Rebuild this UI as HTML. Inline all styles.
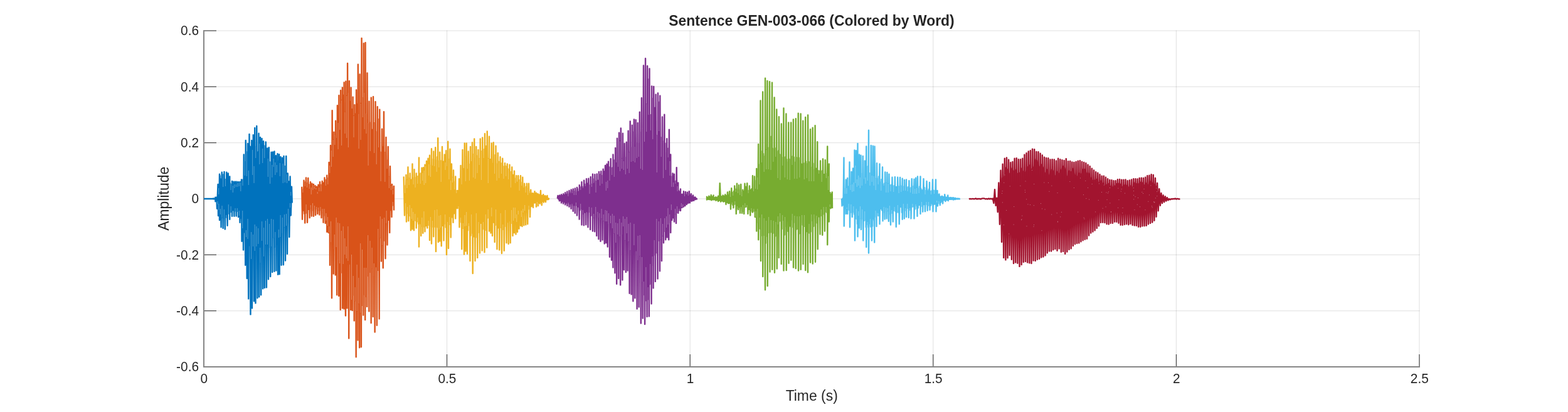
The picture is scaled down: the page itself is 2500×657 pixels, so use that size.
<!DOCTYPE html>
<html lang="en">
<head>
<meta charset="utf-8">
<title>Sentence GEN-003-066 (Colored by Word)</title>
<style>
html,body{margin:0;padding:0;background:#fff;}
body{width:2500px;height:657px;overflow:hidden;}
svg{display:block;}
</style>
</head>
<body>
<svg width="2500" height="657" viewBox="0 0 2500 657">
<rect width="2500" height="657" fill="#fff"/>
<g stroke="#262626" stroke-opacity="0.15" stroke-width="1" fill="none">
<line x1="712.6" y1="48.5" x2="712.6" y2="584.5"/>
<line x1="1100.2" y1="48.5" x2="1100.2" y2="584.5"/>
<line x1="1487.8" y1="48.5" x2="1487.8" y2="584.5"/>
<line x1="1875.4" y1="48.5" x2="1875.4" y2="584.5"/>
<line x1="2263.0" y1="48.5" x2="2263.0" y2="584.5"/>
<line x1="325.5" y1="49.0" x2="2263.5" y2="49.0"/>
<line x1="325.5" y1="138.3" x2="2263.5" y2="138.3"/>
<line x1="325.5" y1="227.7" x2="2263.5" y2="227.7"/>
<line x1="325.5" y1="317.0" x2="2263.5" y2="317.0"/>
<line x1="325.5" y1="406.3" x2="2263.5" y2="406.3"/>
<line x1="325.5" y1="495.7" x2="2263.5" y2="495.7"/>
</g>
<g stroke="#262626" stroke-width="1" fill="none">
<line x1="712.6" y1="585.0" x2="712.6" y2="565.0"/>
<line x1="1100.2" y1="585.0" x2="1100.2" y2="565.0"/>
<line x1="1487.8" y1="585.0" x2="1487.8" y2="565.0"/>
<line x1="1875.4" y1="585.0" x2="1875.4" y2="565.0"/>
<line x1="2263.0" y1="585.0" x2="2263.0" y2="565.0"/>
<line x1="325.0" y1="49.0" x2="345.0" y2="49.0"/>
<line x1="325.0" y1="138.3" x2="345.0" y2="138.3"/>
<line x1="325.0" y1="227.7" x2="345.0" y2="227.7"/>
<line x1="325.0" y1="317.0" x2="345.0" y2="317.0"/>
<line x1="325.0" y1="406.3" x2="345.0" y2="406.3"/>
<line x1="325.0" y1="495.7" x2="345.0" y2="495.7"/>
</g>
<rect x="324" y="48" width="2" height="538" fill="#868686"/>
<rect x="324" y="584" width="1940" height="2" fill="#868686"/>
<g fill="none" stroke-width="2.4" stroke-linejoin="round" stroke-linecap="butt">
<path d="M325 317L339 317L340 316.5L340 317.3L340.68 316.7L341.36 317.3L342.04 316.7L342.72 317.3L343.4 314.6L343.4 321.2L344.05 315.8L344.7 320.7L345.35 314.8L346 332.8L347.5 294L348 344L348.67 300.9L349.33 333.5L350 277.8L350 351L350.62 280.3L351.25 340.7L351.88 285.6L352.5 362.2L353.75 274.8L354.37 346.3L354.99 281.3L355.61 363.9L356.24 278.3L356.87 347.7L357.5 274L358.75 365.5L359.58 286.2L360.42 346.4L361.25 274.8L362.5 359.8L363.75 276.5L364.38 340.4L365 289.5L365.62 338.4L366.25 281.5L366.25 349.8L367 292.1L367.75 338.1L368.5 294.5L369.25 335.7L370 289L370 344.8L370.84 296.8L371.67 335L372.51 289.8L373.36 344.7L373.91 294.9L374.45 335.7L375 289.8L375.56 336.6L376.13 295.5L376.69 344.5L377.51 289.8L378.13 336.7L378.76 292.5L379.38 335.5L380 290.2L380 346L380.62 295.1L381.25 342.8L381.88 293.2L382.5 354.8L382.55 289.9L383.16 351.6L383.77 292L384.39 349.1L385 286.5L385.5 384.8L386.12 289.2L386.75 363L387.38 286.5L388 398.5L388.75 246.5L389.57 370.3L390.4 258.1L391.22 422.7L391.75 224L392.4 377.4L393.06 242.7L393.71 444L395 229L396.21 476.4L397.5 214L398.15 391.3L398.8 233.7L399.46 501.4L400.05 245L400.65 412.4L401.25 224L401.95 491.4L402.55 239.8L403.15 392.1L403.75 215.2L404.95 480.2L406.25 204L407.44 483.4L408.05 234.6L408.65 392.3L409.25 201L410.44 475.2L411.13 242.6L411.81 387.9L412.5 212.8L413.19 473.4L413.79 230.5L414.4 417.8L415 219L416.18 470.2L417.52 221L418.07 383.3L418.63 237.7L419.18 460.2L420 225.2L420.64 408.4L421.28 232.6L421.92 458.9L422.53 251.9L423.14 388.7L423.75 226.5L424.92 458.4L426.25 236.5L426.8 389L427.36 254.3L427.91 445.2L428.75 235.2L429.55 394.5L430.36 258.6L431.16 441L432.5 242.8L433.05 391.7L433.6 263.5L434.15 434L435 242.4L435.8 378.1L436.6 254.2L437.4 432.7L437.5 241.5L438.12 394.6L438.73 259.8L439.35 378.1L439.96 248.2L440.39 431.5L441.1 264.2L441.8 381.6L442.5 245.2L443.14 437.7L443.79 257.7L444.43 378.3L445.07 246.2L445.64 437.2L446.26 261.3L446.88 377.3L447.5 250.2L448.63 422.7L450.05 251.7L450.66 370.7L451.27 261.8L451.88 422.2L452.5 249L453.33 361.2L454.17 265.3L455 415.5L456.25 249L456.83 358.8L457.42 278.9L458 404.8L458.75 276.5L459.58 353.8L460.42 289.4L461.25 378L462.5 281.5L463.75 343.5L465 297.8L465.75 323.5" stroke="#0072BD"/>
<path d="M348.7 300V310M355.7 277V298M359.4 285V297M368.1 291V303M371.3 296V307M373.8 294V300M376.3 294V298M378.8 292V298M381.2 292V297M383.8 291V305M387.0 286V296M390.2 257V280M393.3 242V281M396.3 272V295M402.6 239V279M405.0 265V292M407.7 234V252M413.8 229V262M418.7 237V260M421.8 232V252M427.4 253V282M430.6 258V293M433.8 263V283M436.2 253V266M438.8 259V279M441.3 263V275M446.3 260V281M451.2 261V292M454.3 264V291M457.5 278V292M463.8 306V312M346.9 326V321M348.9 335V325M351.3 342V333M354.0 347V328M357.3 349V334M360.7 347V343M364.3 341V326M368.1 339V329M375.0 338V332M378.3 338V332M381.3 344V336M383.9 353V349M386.7 364V336M392.4 378V367M395.0 381V349M400.6 413V370M403.4 393V374M406.2 400V358M408.9 393V361M411.8 389V364M414.7 419V395M417.6 384V353M420.6 409V363M423.5 390V352M426.5 390V349M429.6 396V357M432.6 393V349M435.8 379V350M438.8 396V370M444.4 379V366M447.1 378V343M450.3 372V347M453.4 362V342M456.5 360V341M459.6 355V333M462.6 331V324" stroke="#fff" stroke-opacity="0.42" stroke-width="0.8"/>
<path d="M481.25 297.8L482 349.8L482.83 303L483.67 335.5L484.5 287.8L485.08 340.4L485.67 290.2L486.25 355.5L486.83 291.9L487.42 339.9L488 283.5L488.67 336.4L489.33 292.8L490 354.8L491.25 284L492.08 333.7L492.92 294.4L493.75 347.2L495 290.2L495.63 329.8L496.26 300L496.89 344.5L497.49 292.8L498.12 335L498.75 296.2L499.37 333.9L500 294L500 344.8L500.85 299.4L501.71 331.9L502.56 296.3L503.06 342.9L503.71 300.6L504.35 332.8L505 297.8L506.25 341L507.5 294.7L508.11 334.4L508.71 299.8L509.31 342.6L510 290.2L510.83 334.8L511.67 294.9L512.5 347.2L513.75 289L514.33 336.6L514.92 293L515.5 354.8L516.17 291.4L516.83 343.1L517.5 283.5L518.75 356L519.58 286.9L520.42 351.3L521.25 279.8L521.25 369.8L521.85 284.6L522.46 358.6L523.06 284.1L523.66 371L524.5 259L525.01 370.8L525.51 265.1L526.02 422.7L527 232L527.67 384.9L528.34 240.8L529.01 475.2L529.65 176.3L530.35 377.5L531.05 223.7L531.76 436.5L532.39 210.8L533.18 395.8L533.97 217.4L534.75 438.5L535.09 192.7L535.81 393L536.53 221.4L537.25 470.2L537.88 168.3L538.67 413.5L539.46 196.8L540.24 471.9L540.38 152.1L541.17 419L541.95 166.2L542.74 493.9L543.13 144.1L543.81 434.7L544.5 160.8L545.18 413.2L545.87 139.6L545.99 491.4L546.61 199.9L547.23 420.5L547.86 151.8L548.48 492.6L548.62 131.4L549.4 405.5L550.19 179.8L550.98 503.4L551.36 129.6L552.07 410.9L552.77 153.8L553.47 491.4L554.11 100.9L554.81 415.4L555.52 149.5L556.22 539.6L556.85 129.1L557.64 420.6L558.43 161.8L559.22 493.9L559.6 139.6L560.3 476.6L561.01 174.5L561.71 495.1L562.6 154.6L563.3 470.6L564 185.6L564.71 511.4L565.34 167.1L566.13 479.1L566.92 181.4L567.7 569.3L568.09 143.4L568.88 495.2L569.66 165.8L570.45 542.6L570.83 102.7L571.62 483.2L572.41 183.2L573.2 554.3L573.58 118.4L574.37 498.2L575.15 165.8L575.94 553.3L576.58 61L577.45 486.7L578.32 156.9L579.19 502.6L579.82 69.2L580.61 469.1L581.39 149L582.18 510.1L582.57 68L583.44 472.8L584.31 182.2L585.18 488.9L585.56 116.4L586.52 439.8L587.47 197.2L588.42 496.4L588.56 161.6L589.18 431.2L589.8 195.7L590.42 433.4L591.05 197.5L591.67 515.1L591.8 155.8L592.76 427L593.71 207L594.66 505.1L595.05 154.1L595.92 438.8L596.79 196.5L597.66 529.6L598.54 162.1L599.33 425.1L600.12 210.9L600.9 518.8L601.79 170.3L602.74 430.8L603.69 190.3L604.65 508.4L605.28 174.6L606.15 378.3L607.02 242.9L607.89 416.5L609.03 205.8L609.6 390.3L610.18 234.2L610.75 427.2L612.02 178.3L612.85 383.4L613.67 243.6L614.5 412.2L615.5 219L616.17 354.7L616.83 255.2L617.5 390.5L618.75 234L619.58 350.7L620.42 282.9L621.25 371L622 265.2L622.83 335L623.67 296.6L624.5 346L625 294L625.75 327.6L626.5 304L627.25 325.5L628 297L628 335.5" stroke="#D95319"/>
<path d="M482.8 302V307M486.2 289V297M489.6 292V299M493.2 293V301M496.2 299V310M498.8 295V303M501.3 298V301M503.8 300V302M506.2 306V309M508.8 299V305M511.9 294V305M519.3 286V296M522.8 283V294M525.7 264V276M528.4 240V266M531.1 223V250M533.8 216V231M539.1 196V238M541.8 165V207M544.6 160V232M550.0 179V213M552.8 153V220M555.4 148V235M564.0 185V219M572.1 182V237M575.1 165V223M578.3 156V187M581.1 148V206M584.0 181V213M587.1 196V264M590.3 195V241M596.7 196V244M600.2 210V262M603.6 189V235M607.1 242V289M613.8 243V290M617.1 254V269M620.4 282V300M623.6 296V303M626.6 303V310M484.2 341V337M488.1 341V326M495.3 331V327M498.5 336V324M501.5 333V328M504.7 334V330M507.7 335V331M510.9 336V330M514.0 338V333M517.0 344V333M519.9 352V340M522.4 360V346M524.8 371V361M527.5 386V353M533.3 397V374M536.1 394V347M538.7 415V355M541.6 420V356M544.3 436V368M547.2 421V361M549.8 406V380M552.3 412V393M554.9 416V361M560.5 478V406M563.2 472V440M566.1 480V458M569.1 496V422M571.8 484V443M574.7 499V388M577.5 488V398M580.7 470V427M583.7 474V427M586.7 441V375M590.0 434V384M593.1 428V395M596.2 440V420M602.8 432V365M606.3 379V345M609.4 391V349M612.7 384V347M616.1 356V336M626.3 329V322" stroke="#fff" stroke-opacity="0.42" stroke-width="0.8"/>
<path d="M643.75 281.5L645 343.5L645.83 296.4L646.67 334.9L647.5 279L648 353.5L648.83 287.9L649.67 339.3L650.5 266.5L651.25 352.2L652.08 284.4L652.92 343.5L653.75 276.5L655 367.2L655.83 286.6L656.67 347.8L657.5 261.5L657.51 365.4L658.13 283.2L658.75 350.8L659.38 284.8L660 367.2L660.5 270.2L661.31 351.4L662.12 283.9L662.94 351.9L663.75 276.5L663.75 363.5L664.6 281.2L665.45 353.3L666.3 281.3L667.15 356.9L668 251.5L668 393.5L668.81 277.3L669.62 356.2L670.44 276.5L671.25 376L672.5 267.8L673.11 360.9L673.71 277L674.32 371.8L675 267.2L675.62 361.5L676.25 273.3L676.87 356.7L677.5 262.8L677.5 369.2L678.34 266.4L679.18 360L680.02 256.9L681.25 363.5L682.5 252.8L683.12 358.8L683.75 263.4L684.38 358.1L685 247.8L685 383L686 264.7L687 360L688 237.2L688 388.5L688.65 253.7L689.3 360.7L689.95 263.5L690.6 362.5L691.25 241.5L691.25 377.2L692.25 254.9L693.25 361.3L694.25 235.2L695 401L695.65 256.2L696.3 360.2L696.95 250.3L697.6 362.2L698.25 220.2L698.75 386L699.36 258L699.97 365.2L700.59 256.4L701.2 384.6L701.25 242.8L702.08 362.3L702.92 256.6L703.75 392.2L705 234L705.83 359.7L706.67 257.8L707.5 383.5L708.75 246.5L709.38 356.6L710 259.8L710.62 362.4L711.25 240.2L712 406L712.75 266.6L713.5 369.4L714.25 225.8L715 396L715.83 254.1L716.67 357.8L717.5 237.8L718.75 378.5L720 261.5L720.83 346.4L721.67 283.7L722.5 354.8L723 271.5L723.81 340.6L724.62 290.4L725.44 335.9L726.25 281.5L726.25 348.5L726.9 305.7L727.55 330.7L728.2 304.5L728.85 332.1L729.5 304L729.5 332.2L730.33 305.9L731.17 331L732 285.2L732.5 362.2L733.17 286.8L733.83 347.3L734.5 264L735.08 354.2L735.67 272.1L736.25 397.2L737.5 239L738.33 363.5L739.17 269.3L740 405.5L740.75 228.5L741.31 359.9L741.87 250.7L742.43 400.5L743.75 228.5L745 404.8L745.58 261.3L746.17 367.3L746.75 241.5L747.67 359.2L748.58 262.2L749.5 416L750 234L750.75 375.5L751.5 258.4L752.25 371.6L753 227.2L753.75 436L754.58 246.7L755.42 377.3L756.25 221.5L757.5 416L758.08 252.3L758.67 378.6L759.25 234L759.92 369L760.58 248.9L761.25 411L762.5 239L763.33 370.4L764.17 253.6L765 403.5L765.75 221.5L766.73 355.7L767.71 241.2L768.69 399.5L769.25 219.5L769.9 360.5L770.55 248L771.2 365.2L771.85 237.9L772.5 402.2L773 213.2L773.65 363L774.3 237.1L774.95 367.1L775.6 232.6L776.25 394.8L776.75 209.5L777.56 347.4L778.38 253.5L779.19 346.8L780 217.8L780 368.5L780.62 257.9L781.24 350.3L781.86 254.3L782.48 371.6L783.75 228.5L785 376L785.58 260.6L786.17 352.8L786.75 227.2L787.42 354.8L788.08 260.3L788.75 386L789.33 247L789.92 358.9L790.5 232.8L791.17 356.6L791.83 261.6L792.5 397.2L793.75 244L794.58 363.2L795.42 257.9L796.25 398.5L797.5 250.2L798.33 362.8L799.17 260.4L800 404L801.25 252.8L802.08 365.9L802.92 265.8L803.75 399.8L805 260.2L805.83 360.3L806.67 265.3L807.5 387.2L808.75 261.5L809.39 354L810.03 269.4L810.68 389.1L811.28 274.8L811.89 351.9L812.5 262.8L813.75 387.2L814.58 274.5L815.42 355.7L816.25 266.5L817.5 376L818.11 278.9L818.72 350.5L819.33 286.7L819.93 371.2L820 272.8L820.83 347L821.67 284.9L822.5 373.5L823.25 280.2L823.83 352.8L824.42 290.8L825 370.1L826.25 280.2L827.5 364.8L828.33 287.2L829.17 341.4L830 280.2L830.07 359.8L830.68 290.4L831.29 345L831.89 296.2L832.5 361L833.25 282.8L833.95 338.3L834.66 297.4L835.36 359.2L836.25 292.8L836.93 335.4L837.6 300.6L838.28 358.4L838.85 297.8L839.43 336.8L840 292.8L841.25 357.2L841.83 301.7L842.42 333.5L843 292.8L843.67 330.3L844.33 305.9L845 346L846.25 302.8L847.52 329.2L848.11 308.6L848.71 327L849.3 308.1L850 331L850.83 308.9L851.67 322.7L852.5 305.2L852.53 323.6L853.34 308.1L854.15 322.9L854.97 307.7L855 329.8L855.83 310.1L856.67 325.7L857.5 309L857.87 328.3L858.61 310.1L859.34 323.3L860.08 310.7L860.82 324.8L862 304L862.58 322.5L863.17 311.4L863.75 327.2L864.58 312.1L865.42 320.8L866.25 310.2L866.89 322.7L867.73 312.8L868.57 320.2L869.4 312.3L870 322.2L870.62 313.7L871.24 318L871.86 313.7L872.48 318.1L872.5 312L873.12 318L873.75 316.6L874.38 318L875 316.6L875 318" stroke="#EDB120"/>
<path d="M645.6 295V308M648.9 287V300M652.1 283V295M659.1 282V294M662.1 283V299M665.8 280V293M670.3 275V293M673.8 276V288M676.2 272V295M678.7 265V292M683.8 262V280M686.5 264V282M689.5 253V264M692.7 254V265M696.2 249V274M699.8 255V267M703.2 256V290M710.0 259V271M715.9 253V286M718.8 288V303M721.5 283V291M724.7 289V302M727.8 304V308M736.0 271V294M742.3 250V289M745.3 260V269M748.4 261V288M754.6 246V283M757.8 251V285M760.9 248V276M764.1 253V263M767.4 240V287M771.1 237V252M778.3 253V292M788.6 246V277M792.1 261V288M795.7 257V284M799.4 259V277M803.0 265V285M806.8 264V281M810.6 268V286M814.4 274V299M821.7 284V292M828.1 286V304M831.7 289V296M834.8 296V299M838.1 297V307M841.6 301V311M844.7 305V308M646.6 336V324M649.7 340V330M653.2 344V327M656.3 349V332M658.7 352V338M661.8 353V341M665.9 358V347M672.8 362V347M675.9 363V337M683.2 360V352M686.4 361V346M689.6 364V352M693.1 362V335M696.8 363V334M700.0 366V344M702.6 363V343M709.7 363V342M713.6 370V354M716.8 359V346M730.9 332V329M734.4 355V347M738.2 364V356M741.1 361V343M743.7 360V338M747.3 368V356M751.6 377V342M759.3 380V340M763.0 371V354M770.6 366V354M774.3 368V342M778.2 348V334M783.8 345V331M790.6 360V334M798.2 364V340M801.8 367V358M805.7 361V335M815.7 357V335M818.6 352V331M821.2 348V331M823.8 354V342M826.3 342V336M831.3 346V336M833.9 339V333M836.7 336V327M843.1 335V328M856.5 327V322" stroke="#fff" stroke-opacity="0.42" stroke-width="0.8"/>
<path d="M888.75 316.8L889.5 312L890.29 317.3L891.08 313.5L891.87 320.4L892.21 311.4L892.91 319.6L893.61 312.8L894.3 320.2L895 310.2L895 323.5L895.77 311.7L896.54 320.9L897.31 311.6L898.08 324.8L898.15 309.2L898.92 322.1L899.68 311.3L900.44 322.3L901.2 307.1L901.21 326.4L901.83 309.9L902.46 323.2L903.08 310.3L903.7 323.8L904.32 305.5L904.39 328.1L905.01 309.8L905.63 323.7L906.26 310.2L906.88 324.6L907.5 304L907.5 329.8L908.27 309.4L909.03 324.7L909.8 306.8L910.57 332.8L910.66 302.5L911.27 325.4L911.88 304.4L912.49 326L913.1 307.3L913.71 336.7L913.75 301.4L914.37 326L914.98 305.8L915.6 327.2L916.21 305.5L916.83 339.8L916.84 300.5L917.63 327.2L918.42 307.1L919.21 328L920 299L920 343.5L920.92 301.1L921.84 329.5L922.76 305.2L923.69 349.6L923.8 295.3L924.73 335.2L925.65 298.4L926.58 332.9L927.5 290.2L927.5 358.5L928.35 297.7L929.2 340.8L930.05 300.7L930.9 359.3L931.18 287.8L931.78 335.8L932.39 293.8L932.99 338.5L933.6 297.1L934.2 358.2L935 285.2L935.83 337.2L936.67 292.7L937.5 362.2L938.28 284.8L939.25 337.7L940.21 295.9L941.18 366L941.71 282.1L942.53 343.7L943.36 294.8L944.18 341.7L945 277.8L945 368.5L945.79 285.3L946.59 346.2L947.38 291.1L948.17 369.3L948.38 278.3L949.34 340.9L950.29 289.3L951.25 376L951.73 277.4L952.62 345.7L953.51 287.9L954.4 381.2L955 274L955.83 349.9L956.67 278.8L957.5 384.8L958.3 273.3L959.07 347L959.84 280.6L960.61 382.6L961.66 269.7L962.36 351.3L963.05 273.5L963.75 388.5L965 264L966.31 387.3L967.51 261.7L968.75 393.5L970 257.8L970.67 355.6L971.33 266.8L972 409.8L972.58 271.5L973.15 354.6L973.73 253.1L975 414.8L975.61 268.1L976.22 363.4L976.83 266.9L977.44 426.5L977.5 246.5L978.48 371.4L979.46 255.7L980.44 435.2L981.2 236L981.86 385.9L982.52 246.1L983.19 452.7L984 220.6L984.73 373.5L985.45 256.3L986.18 444L987.08 211.7L987.78 375.6L988.48 225.8L989.18 454.4L989.88 204.4L990.73 372.7L991.58 254L992.42 446.5L992.96 212.8L993.61 359.5L994.27 257.5L994.92 430.2L995.76 229L996.48 382.4L997.2 251.5L997.91 434L998.84 226.8L999.45 370.8L1000.05 240L1000.66 431.5L1001.64 208.6L1002.31 384.4L1002.98 243.8L1003.65 467.7L1004.72 193.5L1005.37 398.1L1006.01 235.3L1006.65 469.4L1007.8 199.6L1008.33 376.9L1008.87 210.6L1009.4 480.2L1010.88 190.4L1011.39 389.6L1011.89 235.1L1012.39 475.2L1013.69 191.2L1014.34 399.2L1014.99 228L1015.64 492.6L1016.77 196L1017.39 413.8L1018.01 228.3L1018.63 489.6L1019.85 178.6L1020.52 407.3L1021.2 211.3L1021.88 515.6L1022.93 156.2L1023.58 447.6L1024.22 205.3L1024.87 507.6L1026.01 104.4L1026.71 469.7L1027.41 185.5L1028.12 517.1L1029.09 93.2L1029.93 479L1030.77 166.7L1031.61 505.1L1032.17 105.2L1033.06 477L1033.96 126.5L1034.86 504.4L1035.53 109.4L1036.14 453L1036.76 196.7L1037.37 452L1037.99 182.9L1038.6 484.4L1039.17 137.4L1039.98 422.9L1040.79 157.1L1041.6 459.4L1042.25 138L1043.11 406L1043.98 172L1044.84 448.9L1045.61 150.6L1046.6 403L1047.59 216.7L1048.59 444.5L1048.97 148.4L1049.58 383L1050.18 165.6L1050.79 383.4L1051.39 162.7L1052 432.2L1052.33 152.6L1053.22 381.4L1054.11 219.8L1055 416L1055.97 186.5L1056.65 375.5L1057.32 226L1058 387.2L1059.33 182.8L1059.97 368.4L1060.61 228.8L1061.25 382.2L1061.92 244.4L1062.58 361.9L1063.25 221.2L1063.71 378.6L1064.34 250.7L1064.98 357.3L1065.61 236.4L1066.25 382.2L1066.89 206.6L1067.48 354L1068.07 257.9L1068.66 352.8L1069.25 246.5L1069.25 371L1070.25 281.8L1071.25 351L1072.5 276.5L1073.12 347.4L1073.75 291.8L1074.38 343.1L1075 277.8L1075 353.5L1075.75 289.4L1076.5 340.3L1077.25 289L1078 356L1078.75 267.2L1079.38 338.8L1080 298.4L1080.62 335.6L1081.25 291.5L1081.25 339.8L1082 304.1L1082.75 335.4L1083.5 306L1084.25 334L1085 301.5L1085 336L1085.82 310.3L1086.65 329.3L1087.47 309.7L1087.48 331.1L1088.32 310.8L1089.16 329.3L1090 305.2L1090 329.8L1090.61 310.2L1091.22 327.5L1091.83 310L1092.45 328.3L1092.96 306L1093.64 325.3L1094.32 311.1L1095 326L1095.91 306.8L1096.44 323.7L1096.98 308.4L1097.52 323.8L1098.75 305.2L1100 323.5L1100.63 311.9L1101.26 320.4L1101.88 309.2L1103.08 320.7L1103.72 313.9L1104.36 319.7L1105 311.5L1106.25 319.8L1106.98 314.9L1107.71 318L1108.45 314.5L1109.14 318.1L1110.09 316.5L1111.05 317.3L1112 317.1L1112 317.1" stroke="#7E2F8E"/>
<path d="M905.9 309V313M909.1 306V308M912.2 303V308M915.3 305V311M918.4 306V311M921.9 300V305M925.7 297V303M933.2 293V297M940.0 295V309M943.4 294V298M946.7 284V292M950.0 288V307M956.6 278V296M960.0 280V293M966.3 290V304M968.8 288V300M972.0 266V288M975.6 266V279M979.3 255V282M982.6 245V259M985.5 255V266M988.5 225V273M991.5 253V269M994.4 257V271M997.3 250V278M1000.3 239V269M1003.2 243V276M1006.3 234V258M1009.3 210V257M1012.3 234V259M1015.3 227V252M1018.3 227V250M1021.4 210V269M1024.4 204V271M1027.5 184V226M1030.7 166V210M1033.9 125V183M1037.4 182V208M1040.7 156V222M1047.3 216V275M1050.7 162V209M1054.2 219V250M1057.6 225V284M1061.4 228V271M1065.2 235V251M1068.0 257V280M1070.8 281V298M1073.7 291V298M1076.9 288V293M1080.1 297V305M1091.5 309V313M1097.3 307V312M906.0 326V323M912.1 327V325M918.4 329V323M925.7 336V325M929.2 342V335M939.4 339V330M943.2 345V331M946.6 347V341M949.7 342V330M952.9 347V338M955.9 351V340M959.1 348V333M962.2 352V342M965.1 353V335M967.5 353V336M970.3 357V340M973.5 356V344M976.3 364V341M979.0 372V344M981.8 387V355M984.8 374V356M987.8 377V349M990.9 374V355M993.6 361V345M996.4 383V349M999.3 372V346M1002.1 385V357M1005.1 399V355M1010.9 391V357M1017.1 415V376M1020.2 408V375M1023.5 449V410M1026.5 471V449M1029.9 480V426M1033.2 478V458M1036.7 454V421M1040.2 424V409M1043.2 407V383M1046.8 404V349M1050.3 384V353M1053.5 382V348M1056.6 376V357M1059.7 369V348M1062.6 363V345M1065.0 358V332M1067.7 355V342M1070.3 335V326M1076.5 341V333M1079.6 340V329M1083.0 336V333M1086.3 330V324M1088.7 330V326" stroke="#fff" stroke-opacity="0.42" stroke-width="0.8"/>
<path d="M1127 312.8L1127 318.5L1127.66 315.3L1128.33 317.7L1128.99 315.1L1129.65 317.8L1130.32 312.6L1130.66 318.1L1131.28 315.6L1131.9 318L1132.51 314L1133.13 318L1133.75 311L1134.16 319.3L1134.84 313.1L1135.51 318.2L1136.18 314.6L1136.85 318.2L1137.52 311.5L1137.82 318.3L1138.5 315.3L1139.18 318.3L1139.86 315.2L1140.54 318.3L1141.22 314.3L1141.41 319.9L1142.13 315.1L1142.84 318.9L1143.56 315L1144.28 319.1L1145 312.8L1145 321L1145.92 314.6L1146.83 319.7L1147.75 292.2L1149.12 321.7L1149.79 313.3L1150.47 320.4L1151.15 313.6L1151.82 320.4L1152.5 311.5L1153.28 321.7L1153.88 312.6L1154.48 321.2L1155.08 312.8L1155.68 321L1156.29 310.2L1157.5 326L1158.33 312.3L1159.17 322.8L1160 306.5L1161.19 324.4L1161.82 311.2L1162.46 323.7L1163.1 305.2L1163.73 323.9L1164.37 310.3L1165 333.5L1166.25 300.2L1166.89 324.9L1167.53 309.1L1168.17 326.9L1168.81 306.7L1169.45 331.4L1170.05 304.7L1170.65 325.9L1171.25 296.5L1172.08 325.3L1172.92 302L1173.75 341L1175 292.8L1175.65 331.3L1176.3 304.8L1176.95 334.1L1178.11 295.2L1178.74 330L1179.37 303.2L1180 339.8L1181.25 294L1181.88 328.7L1182.51 307L1183.14 339.9L1184.32 302.7L1184.96 336.3L1185.61 305.4L1186.25 341L1187.5 292.8L1188.13 329.5L1188.77 297.7L1189.4 330L1190.02 302.9L1190.63 328.8L1191.25 292.2L1192.5 341L1193.33 304.2L1194.17 333.9L1195 296.5L1196.25 343.5L1197 302.9L1197.75 335.8L1198.5 301.1L1199.25 337.8L1200 280.2L1200 338.5L1201 297.2L1202 336.6L1203 281.5L1203.75 346L1204.58 288.4L1205.42 345.7L1206.25 269L1206.25 368.5L1207.22 284.2L1208.18 354.1L1209.15 229.9L1209.25 382.2L1209.9 269.9L1210.55 364.2L1211.21 262.7L1211.86 364.8L1212.51 160.4L1213 416L1213.63 256.1L1214.26 371.1L1214.89 241.1L1215.52 376L1216.15 146.4L1216.25 441L1217.19 245.3L1218.12 374.4L1219.06 249.3L1220 462.2L1220.07 124.6L1220.91 387.7L1221.75 239.5L1222.59 376.6L1223.43 129L1223.75 456L1224.41 242L1225.08 370.9L1225.74 235.7L1226.41 370.4L1227.07 130.2L1227.5 433.5L1228.2 239.6L1228.9 370.2L1229.59 217.6L1230.29 367.4L1230.99 131.8L1231.25 429.8L1231.93 236.4L1232.6 371.8L1233.28 238.6L1233.96 371.1L1234.63 155.4L1235 434.8L1235.65 242.7L1236.31 376.5L1236.96 236.5L1237.62 358.6L1238.27 174.4L1238.75 428.5L1239.5 242.2L1240.25 357L1241 240.2L1241.75 411L1241.91 186.2L1242.68 352.7L1243.45 246.4L1244.22 352.1L1244.98 248.3L1245.75 421L1245.83 197.4L1246.74 365.1L1247.65 251.9L1248.56 350.9L1249.47 172.5L1249.5 431.5L1250.28 252.5L1251.06 374.3L1251.84 250.8L1252.62 360.6L1253.39 181.4L1253.75 431L1254.46 254.1L1255.18 352L1255.89 258.6L1256.6 369.1L1257.31 195.4L1257.5 419.8L1258.25 253.8L1258.99 359.9L1259.74 255L1260.49 361.2L1261.23 195.4L1261.25 414.8L1261.98 251.2L1262.7 349.8L1263.43 249.7L1264.15 362.3L1264.88 190.4L1265 426.5L1265.94 250.7L1266.88 354.5L1267.81 258.6L1268.75 428L1268.8 189.3L1269.45 366.3L1270.1 251.3L1270.76 364.9L1271.41 252.6L1272.06 354.2L1272.72 180.6L1273 431.5L1273.73 251.6L1274.45 372.2L1275.18 256.5L1275.91 363L1276.64 181.4L1276.75 429.8L1277.46 261.3L1278.16 354.3L1278.87 262.3L1279.57 358.7L1280.28 192.6L1280.5 421L1281.24 261.8L1281.98 360.9L1282.72 260.2L1283.46 355.9L1284.2 187L1284.25 431L1285.19 257.6L1286.12 369L1287.06 261.3L1288 434.2L1288.12 183.4L1288.89 355.3L1289.67 258.1L1290.45 371.4L1291.22 267.4L1292 418.5L1292.04 206.1L1292.95 369.2L1293.86 268L1294.77 351.9L1295.68 203.8L1295.75 420.5L1296.52 260.8L1297.29 360.8L1298.06 270.7L1298.83 347.4L1299.6 200.2L1300 417.8L1300.65 268.4L1301.3 343.9L1301.94 269.8L1302.59 355.2L1303.24 226.2L1303.75 397.2L1304.69 272.1L1305.62 345.4L1306.56 272.8L1307.5 373.5L1308 256.5L1308.65 344.1L1309.3 274.3L1309.95 338.7L1310.6 272.4L1311.25 374.8L1312 253.5L1313 341.1L1314 278.1L1315 368.5L1315.75 255.2L1316.62 337.5L1317.5 277.2L1318.38 339.1L1319.25 233.5L1319.25 390.2L1320.08 281.7L1320.92 334.8L1321.75 261.5L1321.75 353.5L1322.44 308L1323.12 329L1323.81 307.1L1324.5 332.2L1325.25 309.3L1326 321.6L1326.75 306.5L1327 332.2" stroke="#77AC30"/>
<path d="M1164.6 309V314M1168.7 304V312M1173.1 301V306M1176.6 304V308M1179.7 302V311M1182.8 306V313M1193.1 303V308M1201.5 296V305M1204.5 287V301M1207.7 283V302M1210.9 262V294M1214.4 240V259M1218.2 244V274M1221.8 239V270M1225.2 235V270M1229.0 217V271M1232.9 235V258M1236.6 236V250M1240.1 239V284M1243.9 245V287M1247.7 251V264M1251.3 250V283M1255.3 253V286M1259.2 253V287M1263.0 249V263M1266.9 250V285M1270.7 250V285M1274.8 251V283M1282.3 259V286M1286.2 257V284M1290.0 257V289M1293.8 267V289M1297.6 260V289M1305.6 271V277M1310.1 271V290M1317.4 276V284M1320.6 281V303M1324.3 306V309M1167.2 328V323M1171.7 327V321M1175.4 332V329M1184.6 337V327M1187.8 330V324M1191.0 330V327M1198.0 338V332M1201.9 338V333M1205.0 346V337M1207.8 355V333M1211.1 366V347M1214.6 377V342M1218.2 375V348M1221.8 389V352M1225.6 372V346M1229.3 371V351M1233.2 373V352M1236.9 378V354M1240.3 358V345M1243.7 354V340M1247.6 366V343M1251.6 375V346M1263.2 363V341M1266.9 356V344M1271.0 367V345M1274.8 373V345M1278.6 360V343M1282.4 362V343M1290.0 372V357M1293.8 370V342M1297.9 362V342M1301.9 356V344M1309.3 345V334M1313.1 342V330M1317.1 340V330M1323.2 330V326" stroke="#fff" stroke-opacity="0.42" stroke-width="0.8"/>
<path d="M1342 316.7L1342.5 328.5L1343.5 316.5L1344.5 326.8L1345.5 251.5L1345.75 360.5L1346.75 300.9L1347.75 332.1L1348.75 286.5L1348.75 341L1349.58 301L1350.42 332.3L1351.25 284L1351.25 341L1351.9 297.2L1352.55 334L1353.2 297.7L1353.85 334.9L1354.5 258.5L1355 362.2L1355.83 296.1L1356.67 338.2L1357.5 274L1358.75 346L1360 268.5L1360.62 338L1361.25 292.1L1361.88 341.6L1362.5 239.5L1363 383.5L1363.67 265.2L1364.33 342.8L1365 240.2L1365.62 349.1L1366.25 286.8L1366.88 357.1L1367.5 229L1367.5 377.2L1368.33 280.7L1369.17 343.5L1370 246.5L1370 363.5L1370.83 283.9L1371.67 347.4L1372.5 247.8L1373 366L1373.92 277.2L1374.83 348.8L1375.75 249L1376.25 383.5L1377.08 286.9L1377.92 351.8L1378.75 256.5L1379.38 350.8L1380 283.8L1380.62 362.2L1381.25 233.5L1381.25 394L1382 268.3L1382.75 357.9L1383.5 265.8L1384.25 362.3L1385 207.8L1385 403.5L1385.75 276L1386.5 356.2L1387.25 276.4L1388 361.4L1388.75 232L1390 383.5L1390.58 280.8L1391.17 360.4L1391.75 232.8L1392.58 351.1L1393.42 281.9L1394.25 386.5L1394.5 233.5L1395.5 345.5L1396.5 285.6L1397.5 361L1398 260.2L1398.75 338.3L1399.5 285.7L1400.25 344.1L1401 281.7L1401.75 334.7L1402.5 261.5L1402.5 357.2L1403.4 290.4L1404.3 332.7L1405.2 286.2L1406.1 335.2L1407 266.5L1407.5 352.2L1408.3 294.3L1409.09 337.3L1409.89 292.6L1410.69 349.6L1411.25 274.5L1412.08 329.9L1412.92 292.7L1413.75 348.5L1414.44 275L1415.24 335.5L1416.04 293.7L1416.83 352.8L1417.5 277.8L1418.33 340.4L1419.17 295.4L1420 358.5L1420.83 295L1421.67 339.3L1422.5 282.8L1423.75 353.5L1424.38 296.8L1425.01 335.7L1425.65 296.3L1426.28 332.1L1426.91 282.3L1427.52 337L1428.14 297.9L1428.75 361.8L1429.58 298.2L1430.42 338.4L1431.25 282.8L1432.08 338.5L1432.92 297.8L1433.75 357.2L1435.07 282.9L1435.99 329.8L1436.91 297L1437.83 338.7L1438.75 284.8L1438.75 349.8L1439.53 299.1L1440.31 331.7L1441.08 297.3L1441.86 348.5L1441.93 286.9L1442.7 336L1443.47 299.1L1444.23 332.9L1445 286.5L1445 346L1445.63 298.3L1446.25 329.7L1446.88 300.4L1447.51 332.1L1448.13 298.3L1448.76 347L1449.43 288.1L1450.04 335.1L1450.66 300.8L1451.27 331.1L1451.89 299.7L1452.5 348.5L1453.75 285.2L1454.69 329.9L1455.62 297.8L1456.56 329.5L1457.5 285.8L1457.5 348.5L1458.4 302.3L1459.31 333.2L1460.21 283.8L1460.97 327.7L1461.74 301.3L1462.5 344.8L1463 281.5L1463.75 331.7L1464.5 301.3L1465.25 327.1L1466 297.7L1466.75 326.9L1467.5 281.5L1467.5 341L1468.13 300.2L1468.75 328L1469.38 302.5L1470.01 328.5L1470.63 303.6L1471.26 337.7L1472.5 285.2L1473.33 326.1L1474.17 299.5L1475 337.2L1475.83 304.1L1476.67 325.4L1477.5 289L1478.77 335.8L1479.42 305L1480.06 327.1L1480.71 301.8L1481.35 327.4L1482 291L1482.5 334.8L1483.4 305L1484.3 327.6L1485.2 304.6L1486.1 325.4L1487 286.5L1487.5 337.2L1488.4 303.7L1489.3 325.8L1490.2 304.1L1491.1 325.5L1492 286.5L1492.5 337.2L1493.17 306.9L1493.83 322.3L1494.5 304L1495 328.5L1495.83 310.8L1496.67 323.9L1497.5 309.5L1498.75 327.2L1499.38 313.8L1500.01 323.1L1500.64 313.8L1501.27 320.7L1501.91 312.7L1503.18 324.5L1503.79 314L1504.41 319.2L1505.02 314.5L1505.64 319L1506.25 310.2L1507.5 321L1508.25 314.6L1509 318.8L1509.75 314.8L1510.5 318.9L1511.25 311.5L1511.67 320.2L1512.45 315.3L1513.23 317.9L1514.02 315.4L1514.8 317.8L1515.59 315.1L1515.76 317.9L1516.61 315.3L1517.46 317.9L1518.3 315.5L1519.15 317.8L1520 315.2L1520 318.5L1520.82 315.9L1521.64 318L1522.46 315.9L1523.28 318L1523.39 315.9L1524.05 317.3L1524.71 316.7L1525.37 317.3L1526.03 316.7L1526.7 317.4L1526.71 316.5L1527.37 317.3L1528.03 316.7L1528.68 317.3L1529.34 316.7L1530 317.2L1530 316.8" stroke="#4DBEEE"/>
<path d="M1347.2 300V309M1349.9 300V309M1356.0 295V303M1358.8 294V306M1361.2 291V305M1363.8 264V292M1366.3 286V298M1368.7 280V296M1371.3 283V300M1374.2 276V296M1380.0 283V293M1383.2 265V288M1387.0 275V296M1390.2 280V290M1393.2 281V296M1396.2 285V303M1400.2 281V294M1404.8 285V304M1409.2 292V296M1412.9 292V307M1416.1 293V307M1420.0 294V305M1424.7 295V306M1433.1 297V308M1436.8 296V306M1440.3 296V304M1443.5 298V304M1447.1 297V305M1451.6 299V307M1455.6 297V309M1458.8 301V309M1461.6 300V309M1465.2 297V308M1470.1 299V303M1475.0 299V310M1479.7 301V303M1484.5 304V310M1489.5 303V309M1350.1 333V331M1353.1 336V325M1356.9 339V326M1360.8 343V329M1365.3 358V333M1368.8 344V337M1371.5 348V329M1374.7 350V334M1378.7 363V337M1383.2 363V354M1387.6 362V349M1392.1 361V350M1396.0 347V336M1400.1 345V340M1409.2 338V330M1415.3 336V332M1418.4 341V328M1421.8 340V335M1426.2 338V330M1431.3 340V327M1436.3 340V332M1440.3 333V325M1443.5 337V332M1446.8 333V325M1450.6 336V332M1455.0 331V325M1460.0 334V326M1469.4 329V322M1477.0 326V322M1480.6 328V322M1485.0 329V325M1493.7 323V320M1496.9 325V321" stroke="#fff" stroke-opacity="0.42" stroke-width="0.8"/>
<path d="M1544.93 317L1546.51 317L1549.67 317L1552.83 317L1555.99 317L1559.15 317L1562.31 317L1565.47 317L1568.63 317L1571.79 317L1574.95 317L1578.11 317L1581.27 317L1584.43 317L1587.59 317L1590.75 317L1593.91 299.8L1597.07 283.2L1600.23 282L1603.39 266.1L1606.55 269.1L1609.71 276.5L1612.87 266.6L1616.03 272.3L1619.19 269.3L1622.35 276.1L1625.51 274.9L1628.67 267L1631.83 272.9L1634.99 274L1638.15 265.5L1641.31 262.1L1644.47 269.1L1647.63 265.5L1650.79 252.7L1653.95 255.4L1657.11 265.5L1660.27 260.9L1663.43 265.8L1666.59 275.5L1669.75 268.8L1672.91 279.5L1676.07 269.4L1679.23 270.7L1682.39 280L1685.55 272.5L1688.71 276L1691.87 268.9L1695.03 263.4L1698.19 266.8L1701.35 281.1L1704.51 271.6L1707.67 273.3L1710.83 267.3L1713.99 278.3L1717.15 281L1720.31 275.3L1723.47 276.7L1726.63 268.7L1729.79 269L1732.95 275.7L1736.11 275.1L1739.27 282.6L1742.43 286.9L1745.59 286.5L1748.75 284.7L1751.91 290.7L1755.07 286.9L1758.23 291L1761.39 294.7L1764.55 293.7L1767.71 291.7L1770.87 296.6L1774.03 297.6L1777.19 295.9L1780.35 292.1L1783.51 291.8L1786.67 292.8L1789.83 297.2L1792.99 293.9L1796.15 294.5L1799.31 297.7L1802.47 295.2L1805.63 297.8L1808.79 289.9L1811.95 292.3L1815.11 292.5L1818.27 289.6L1821.43 290.2L1824.59 294.4L1827.75 290.9L1830.91 294.3L1834.07 287.8L1837.23 290.7L1840.39 292.7L1843.55 296.2L1846.71 306.5L1849.87 311.2L1853.03 312.3L1856.19 317L1859.35 317L1862.51 317L1865.67 317L1868.83 317L1871.99 317L1875.15 317L1878.31 317L1881.38 317L1881.38 317L1876.73 317L1873.57 317L1870.41 317L1867.25 317L1864.09 317L1860.93 317L1857.77 317L1854.61 319.4L1851.45 319.3L1848.29 320.5L1845.13 325.7L1841.97 331.4L1838.81 333.2L1835.65 326.2L1832.49 333.9L1829.33 326.7L1826.17 337.2L1823.01 334.8L1819.85 331.5L1816.69 328.9L1813.53 330.6L1810.37 327.3L1807.21 326.3L1804.05 335.6L1800.89 332.8L1797.73 338.8L1794.57 328.5L1791.41 334.3L1788.25 329.8L1785.09 332.4L1781.93 332.8L1778.77 334.2L1775.61 328.4L1772.45 334.4L1769.29 330.1L1766.13 335.2L1762.97 335.4L1759.81 327.2L1756.65 329.5L1753.49 334.7L1750.33 330.1L1747.17 338.8L1744.01 335.9L1740.85 329.4L1737.69 333.8L1734.53 345.8L1731.37 350.4L1728.21 334.9L1725.05 338L1721.89 337.1L1718.73 340.5L1715.57 350.6L1712.41 347.3L1709.25 339.9L1706.09 348.7L1702.93 343.9L1699.77 352.9L1696.61 354.9L1693.45 356.8L1690.29 357.3L1687.13 334L1683.97 333.7L1680.81 342.5L1677.65 333.9L1674.49 345.9L1671.33 361.8L1668.17 349.3L1665.01 349.8L1661.85 367.2L1658.69 337.4L1655.53 355.9L1652.37 347L1649.21 369.9L1646.05 347.1L1642.89 373.2L1639.73 355.1L1636.57 349.9L1633.41 366.1L1630.25 347.2L1627.09 349.4L1623.93 363.1L1620.77 337.3L1617.61 366L1614.45 351.1L1611.29 339.4L1608.13 355.2L1604.97 357.3L1601.81 366.9L1598.65 344.3L1595.49 327.4L1592.33 328.2L1589.17 322.6L1586.01 319.1L1582.85 317L1579.69 317L1576.53 317L1573.37 317L1570.21 317L1567.05 317L1563.89 317L1560.73 317L1557.57 317L1554.41 317L1551.25 317L1548.09 317L1544.93 317Z" stroke="none" fill="#A2142F" fill-opacity="0.90"/>
<path d="M1544.93 317.6L1546.51 316.9L1548.09 317.4L1549.67 317.1L1551.25 316.9L1552.83 317.3L1554.41 317.1L1555.99 316.4L1557.57 317.6L1559.15 316.8L1560.73 317.2L1562.31 316.9L1563.89 317.6L1565.47 316.6L1567.05 316.4L1568.63 316.4L1570.21 316.9L1571.79 317.5L1573.37 316.9L1574.95 317.6L1576.53 316.5L1578.11 317.6L1579.69 316.6L1581.27 317.5L1582.85 316.6L1584.43 324L1586.01 302.3L1587.59 327.9L1589.17 315.8L1590.75 338.2L1592.33 291.4L1593.91 357.8L1595.49 271.8L1597.07 385.9L1598.65 261.8L1600.23 411.1L1601.81 252.6L1603.39 414.4L1604.97 251.5L1606.55 411.3L1608.13 254.7L1609.71 407L1611.29 259.1L1612.87 413.7L1614.45 258L1616.03 420L1617.61 252.7L1619.19 418.6L1620.77 252.2L1622.35 419.7L1623.93 254.2L1625.51 424.9L1627.09 254.1L1628.67 422L1630.25 252.6L1631.83 417.9L1633.41 246.8L1634.99 416.9L1636.57 244.1L1638.15 418.6L1639.73 241.5L1641.31 419.4L1642.89 240.1L1644.47 420L1646.05 237.6L1647.63 415.5L1649.21 238.1L1650.79 415.9L1652.37 242L1653.95 413.7L1655.53 242.2L1657.11 412.8L1658.69 244.6L1660.27 410.4L1661.85 247.5L1663.43 409.6L1665.01 250.8L1666.59 407.4L1668.17 252L1669.75 403.4L1671.33 252.3L1672.91 400.5L1674.49 254.5L1676.07 400.5L1677.65 254.1L1679.23 398.3L1680.81 254.5L1682.39 397.1L1683.97 256.5L1685.55 399.7L1687.13 252.6L1688.71 396.6L1690.29 254.2L1691.87 401.8L1693.45 255.2L1695.03 400.9L1696.61 255.9L1698.19 404.7L1699.77 253.2L1701.35 401.6L1702.93 257.1L1704.51 397.9L1706.09 257L1707.67 396.3L1709.25 258.4L1710.83 392L1712.41 258.9L1713.99 389.2L1715.57 257.9L1717.15 388.1L1718.73 256.7L1720.31 387.6L1721.89 256.2L1723.47 385.3L1725.05 258L1726.63 383.3L1728.21 259L1729.79 381.8L1731.37 260.2L1732.95 380.8L1734.53 262.6L1736.11 375.5L1737.69 265.1L1739.27 371.5L1740.85 268.6L1742.43 369.6L1744.01 271.5L1745.59 367.4L1747.17 274.1L1748.75 363.9L1750.33 275.8L1751.91 360.4L1753.49 278.1L1755.07 354.9L1756.65 280.7L1758.23 354.8L1759.81 280.7L1761.39 355.1L1762.97 282.8L1764.55 357.2L1766.13 285.2L1767.71 357.6L1769.29 286.9L1770.87 355.9L1772.45 287.3L1774.03 355.9L1775.61 288.3L1777.19 353.8L1778.77 288.2L1780.35 353.9L1781.93 286.2L1783.51 355.7L1785.09 286L1786.67 358.7L1788.25 286.6L1789.83 358.9L1791.41 286.7L1792.99 358L1794.57 286.5L1796.15 357.4L1797.73 288.2L1799.31 358.2L1800.89 287.5L1802.47 356.9L1804.05 286.4L1805.63 359L1807.21 285.3L1808.79 359.6L1810.37 285.3L1811.95 359.9L1813.53 285.4L1815.11 361.7L1816.69 283.9L1818.27 361.8L1819.85 283.7L1821.43 360.5L1823.01 283.9L1824.59 360.2L1826.17 282.8L1827.75 359.9L1829.33 280.2L1830.91 357.5L1832.49 279.8L1834.07 356.1L1835.65 278.1L1837.23 354.6L1838.81 279L1840.39 351.8L1841.97 284L1843.55 345.7L1845.13 291.9L1846.71 336.4L1848.29 301.3L1849.87 327.8L1851.45 307.9L1853.03 324.1L1854.61 311.3L1856.19 322.2L1857.77 313.3L1859.35 320.6L1860.93 315.1L1862.51 319.4L1864.09 317.1L1865.67 318.4L1867.25 317.1L1868.83 317.6L1870.41 316.9L1871.99 317.4L1873.57 316.4L1875.15 317.5L1876.73 317L1878.31 317L1879.89 317.6L1881.38 317" stroke="#A2142F"/>
<path d="M1832.0 310.9h.9M1839.1 321.9h.9M1597.2 308.4h.9M1830.4 321.3h.9M1597.7 304.7h.9M1731.4 316.6h.9M1769.1 299.5h.9M1834.4 295.9h.9M1766.9 305.8h.9M1809.6 313.7h.9M1807.1 311.3h.9M1636.2 317.8h.9M1786.8 305.1h.9M1615.7 358.1h.9M1756.0 306.5h.9M1769.4 323.9h.9M1648.0 358.6h.9M1604.2 335.4h.9M1771.0 337.9h.9M1734.0 299.4h.9M1685.6 307.6h.9M1600.3 291.3h.9M1601.5 279.0h.9M1718.3 338.1h.9M1841.9 315.9h.9M1843.3 300.2h.9M1844.4 312.7h.9M1836.0 328.8h.9M1762.6 329.9h.9M1661.0 332.9h.9M1823.6 301.4h.9M1722.1 284.0h.9M1659.1 324.6h.9M1793.0 308.2h.9M1648.3 293.6h.9M1782.4 300.2h.9M1628.0 350.7h.9M1770.9 338.0h.9M1609.8 297.0h.9M1806.7 299.7h.9M1628.5 349.8h.9M1789.3 339.7h.9M1812.8 326.2h.9M1789.6 331.5h.9M1817.0 329.8h.9M1660.5 367.7h.9M1671.1 291.4h.9M1814.0 315.5h.9M1844.2 305.6h.9M1642.0 326.6h.9M1727.7 347.2h.9M1626.4 296.3h.9M1763.5 307.1h.9M1638.5 325.9h.9M1665.6 334.0h.9M1685.9 353.2h.9M1633.8 303.2h.9M1691.9 338.3h.9M1808.5 334.6h.9M1676.4 296.2h.9M1759.9 295.1h.9M1608.3 372.9h.9M1636.5 360.7h.9M1647.6 361.3h.9M1750.8 319.3h.9M1705.4 289.6h.9M1822.2 308.5h.9M1766.0 308.0h.9M1840.5 322.3h.9M1736.2 318.1h.9M1597.9 322.9h.9M1840.0 322.9h.9M1757.7 332.2h.9M1807.0 304.6h.9M1672.5 305.3h.9M1684.7 339.8h.9M1647.9 327.7h.9M1807.3 317.8h.9M1676.3 342.1h.9M1599.8 358.7h.9M1634.6 289.0h.9M1690.3 345.8h.9M1730.3 288.4h.9M1685.9 354.0h.9M1764.6 318.4h.9M1783.5 318.6h.9M1664.4 291.1h.9M1782.2 331.3h.9M1746.2 337.9h.9M1787.6 301.6h.9M1645.0 271.6h.9M1820.4 306.4h.9M1752.0 292.9h.9M1616.3 329.5h.9M1740.7 293.5h.9M1634.0 306.5h.9M1728.5 349.1h.9M1825.5 334.7h.9M1629.3 344.1h.9M1727.1 310.6h.9M1836.7 330.8h.9M1711.9 299.5h.9" stroke="#fff" stroke-opacity="0.45" stroke-width="1"/>
</g>
<g font-family="'Liberation Sans', Arial, Helvetica, sans-serif" fill="#262626" font-size="20.83px">
<text transform="translate(325.3 611) scale(1 1.06)" text-anchor="middle">0</text>
<text transform="translate(712.9 611) scale(1 1.06)" text-anchor="middle">0.5</text>
<text transform="translate(1100.5 611) scale(1 1.06)" text-anchor="middle">1</text>
<text transform="translate(1488.1 611) scale(1 1.06)" text-anchor="middle">1.5</text>
<text transform="translate(1875.7 611) scale(1 1.06)" text-anchor="middle">2</text>
<text transform="translate(2263.3 611) scale(1 1.06)" text-anchor="middle">2.5</text>
<text transform="translate(317 56.4) scale(1 1.06)" text-anchor="end">0.6</text>
<text transform="translate(317 145.7) scale(1 1.06)" text-anchor="end">0.4</text>
<text transform="translate(317 235.1) scale(1 1.06)" text-anchor="end">0.2</text>
<text transform="translate(317 324.4) scale(1 1.06)" text-anchor="end">0</text>
<text transform="translate(317 413.7) scale(1 1.06)" text-anchor="end">-0.2</text>
<text transform="translate(317 503.1) scale(1 1.06)" text-anchor="end">-0.4</text>
<text transform="translate(317 592.4) scale(1 1.06)" text-anchor="end">-0.6</text>
<text transform="translate(1294.2 639.4) scale(1 1.02)" text-anchor="middle" font-size="22.92px">Time (s)</text>
<text transform="translate(269.2 316.8) rotate(-90) scale(1 1.02)" text-anchor="middle" font-size="22.92px">Amplitude</text>
<text transform="translate(1294 41.2) scale(1 1.02)" text-anchor="middle" font-size="22.92px" font-weight="bold">Sentence GEN-003-066 (Colored by Word)</text>
</g>
</svg>
</body>
</html>
